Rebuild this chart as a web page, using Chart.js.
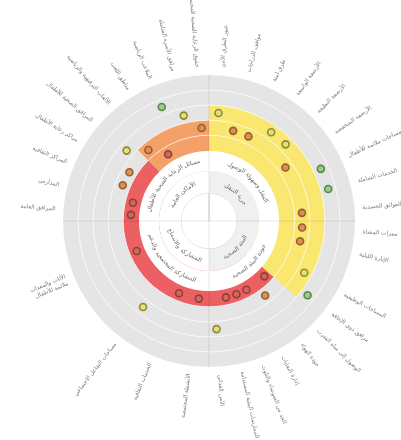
<!DOCTYPE html>
<html>
<head>
<meta charset="utf-8">
<script src="https://cdn.jsdelivr.net/npm/chart.js@4.4.1/dist/chart.umd.min.js"></script>
<style>
  html, body { margin: 0; padding: 0; background: #fff; }
  #wrap { position: relative; width: 401px; height: 440px; }
  #wrap canvas { position: absolute; left: 0; top: 0; }
</style>
</head>
<body>
<div id="wrap">
  <canvas id="bands" width="401" height="440"></canvas>
  <canvas id="core" width="401" height="440"></canvas>
  <canvas id="scores" width="401" height="440"></canvas>
</div>
<script>
// themes, one quarter of the circle each (clockwise from the top)
var themes = ['التنقل وسهولة الوصول', 'جودة البيئة الصحية', 'المشاركة المجتمعية والدعم', 'مسائل الرعاية الصحية للأطفال'];
var subThemes = ['حرية التنقل', 'البيئة الصحية', 'المشاركة والاندماج', 'الأماكن العامة'];

// categories of each theme ('' = empty slot, no label and no score)
var mobility = ['عبور الطرق الآمن', 'مواقف الدراجات', 'طرق آمنة', 'الأرصفة الواسعة', 'الأرصفة النظيفة',
  'الأرصفة المنخفضة', 'مساحات ملائمة للأطفال', 'الخدمات الشاملة', 'العوائق الجسدية'];
var environment = ['ممرات المشاة', 'الإنارة الليلية', '', 'المساحات الوظيفية', 'مرافق ذوي الإعاقة',
  'الوصول إلى مياه الشرب', 'جودة الهواء', 'إدارة النفايات', 'الحد من الضوضاء والتلوث',
  'الممارسات البيئية المستدامة', 'الأمن الغذائي'];
var participation = ['الأنشطة المجتمعية', 'الخدمات الثقافية', 'مساحات التفاعل الاجتماعي', '',
  'الأثاث والمعدات\nملائمة للأطفال', ''];
var care = ['المرافق العامة', 'المدارس', 'المراكز الثقافية', 'مراكز رعاية الأطفال', 'المرافق الصحية للأطفال',
  'الألعاب الترفيهية والرياضية', 'مناطق اللعب', 'الملاعب الرياضية', 'مرافق الأسرة الشاملة',
  'حقوق الرعاية الصحية المجتمعية'];

// scores (0 = inner edge of the bands, 5 = outer edge of the grey disc)
var mobilityScores = [2.5, 1.5, 1.5, 2.5, 2.5, 1.5, 3.5, 3.5, 1.5];
var environmentScores = [1.5, 1.5, null, 2.5, 3.5, 0.5, 1.5, 0.5, 0.5, 0.5, 2.5];
var participationScores = [0.5, 0.5, 2.5, null, 0.5, null];
var careScores = [0.5, 0.5, 1.5, 1.5, 2.5, 1.5, 0.5, 3.5, 2.5, 1.5];

// coloured bands: how many category slots each covers, and its level
var bandNames = ['الوصول', 'المشاركة', 'الرعاية'];
var bandSizes = [14, 17, 5];
var bandLevels = [3, 1, 2];

var bandColors = ['#f9e76f', '#ec5f62', '#f4a169'];
var scoreFill = { '0.5': '#d1675e', '1.5': '#dd8f55', '2.5': '#e2df78', '3.5': '#9fca8a' };
var scoreEdge = { '0.5': '#8f3f39', '1.5': '#93602f', '2.5': '#8c8a35', '3.5': '#57874a' };

var PAD = { left: 63, top: 75, right: 46, bottom: 73 };
var R_MIN = -4.7, R_MAX = 5;
var RES = 2; // radar positions per degree

// spread each theme's categories evenly over its quarter
var themeCats = [mobility, environment, participation, care];
var themeScores = [mobilityScores, environmentScores, participationScores, careScores];
var slots = [];
themeCats.forEach(function (names, q) {
  var step = 90 / names.length;
  names.forEach(function (name, i) {
    slots.push({ name: name, score: themeScores[q][i], from: q * 90 + i * step, to: q * 90 + (i + 1) * step });
  });
});

var positions = [];
var scoreData = [];
for (var k = 0; k < 360 * RES; k++) { positions.push(''); scoreData.push(null); }
slots.forEach(function (s) {
  s.index = Math.round((s.from + s.to) / 2 * RES);
  positions[s.index] = s.name;
  scoreData[s.index] = s.score;
});

var bandAngles = [];
var n = 0;
bandSizes.forEach(function (size) {
  bandAngles.push(slots[n + size - 1].to - slots[n].from);
  n += size;
});

function drawArcText(ctx, text, cx, cy, r, mid) {
  var words = text.split(' ');
  var gap = ctx.measureText(' ').width;
  var widths = words.map(function (w) { return ctx.measureText(w).width; });
  var total = widths.reduce(function (a, b) { return a + b; }, 0) + gap * (words.length - 1);
  var upper = Math.sin(mid) < 0;
  var dir = upper ? -1 : 1;
  var pos = mid - dir * total / (2 * r);
  words.forEach(function (w, i) {
    var c = pos + dir * widths[i] / (2 * r);
    ctx.save();
    ctx.translate(cx + r * Math.cos(c), cy + r * Math.sin(c));
    ctx.rotate(upper ? c + Math.PI / 2 : c - Math.PI / 2);
    ctx.fillText(w, 0, 0);
    ctx.restore();
    pos += dir * (widths[i] + gap) / r;
  });
}

var ringText = {
  id: 'ringText',
  afterDatasetsDraw: function (chart) {
    var ctx = chart.ctx;
    ctx.save();
    ctx.fillStyle = '#6a6a6a';
    ctx.textAlign = 'center';
    ctx.textBaseline = 'middle';
    ctx.font = '6px "DejaVu Sans"';
    [[0, themes], [1, subThemes]].forEach(function (ring) {
      chart.getDatasetMeta(ring[0]).data.forEach(function (arc, i) {
        var mid = (arc.startAngle + arc.endAngle) / 2;
        var r = (arc.innerRadius + arc.outerRadius) / 2;
        drawArcText(ctx, ring[1][i], arc.x, arc.y, r, mid);
      });
    });
    ctx.restore();
  }
};

var outerLabels = {
  id: 'outerLabels',
  afterDraw: function (chart) {
    var scale = chart.scales.r;
    var ctx = chart.ctx;
    ctx.save();
    ctx.font = '5.8px "DejaVu Sans"';
    ctx.fillStyle = '#7a7a7a';
    ctx.textBaseline = 'middle';
    slots.forEach(function (s) {
      if (!s.name) return;
      var a = scale.getIndexAngle(s.index);
      var p = scale.getPointPosition(s.index, scale.drawingArea + 8);
      var right = a < Math.PI;
      var lines = s.name.split('\n');
      ctx.save();
      ctx.translate(p.x, p.y);
      ctx.rotate(right ? a - Math.PI / 2 : a + Math.PI / 2);
      ctx.textAlign = right ? 'left' : 'right';
      lines.forEach(function (line, i) {
        ctx.fillText(line, 0, (i - (lines.length - 1) / 2) * 7.5);
      });
      ctx.restore();
    });
    ctx.restore();
  }
};

// grey disc and coloured bands
new Chart(document.getElementById('bands'), {
  type: 'polarArea',
  data: {
    labels: bandNames,
    datasets: [{
      data: bandLevels,
      angle: bandAngles,
      backgroundColor: bandColors,
      borderWidth: 0
    }]
  },
  options: {
    responsive: false,
    animation: false,
    events: [],
    layout: { padding: PAD },
    plugins: { legend: { display: false }, tooltip: { enabled: false } },
    scales: {
      r: {
        min: R_MIN,
        max: R_MAX,
        backgroundColor: '#e5e5e5',
        grid: { display: false, circular: true },
        angleLines: { display: false },
        ticks: { display: false },
        pointLabels: { display: false }
      }
    }
  }
});

// white centre with theme rings
new Chart(document.getElementById('core'), {
  type: 'doughnut',
  data: {
    labels: themes,
    datasets: [
      { data: [1, 1, 1, 1], backgroundColor: '#ffffff', borderWidth: 0, weight: 20 },
      { data: [1, 1, 1, 1], backgroundColor: ['#f0f0f0', '#f0f0f0', '#ffffff', '#ffffff'], borderWidth: 0, weight: 22 },
      { data: [1], backgroundColor: '#ffffff', borderColor: '#e2e2e2', borderWidth: 1, weight: 28 }
    ]
  },
  options: {
    responsive: false,
    animation: false,
    events: [],
    radius: 70,
    cutout: 0,
    layout: { padding: PAD },
    plugins: { legend: { display: false }, tooltip: { enabled: false } }
  },
  plugins: [ringText]
});

// grid, axes, score points and category labels
new Chart(document.getElementById('scores'), {
  type: 'radar',
  data: {
    labels: positions,
    datasets: [{
      data: scoreData,
      showLine: false,
      fill: false,
      pointRadius: function (ctx) { return ctx.raw == null ? 0 : 3.5; },
      pointBorderWidth: 1.6,
      pointBackgroundColor: function (ctx) { return scoreFill[ctx.raw]; },
      pointBorderColor: function (ctx) { return scoreEdge[ctx.raw]; }
    }]
  },
  options: {
    responsive: false,
    animation: false,
    events: [],
    layout: { padding: PAD },
    plugins: { legend: { display: false }, tooltip: { enabled: false } },
    scales: {
      r: {
        min: R_MIN,
        max: R_MAX,
        ticks: { display: false, stepSize: 1 },
        pointLabels: { display: false },
        grid: {
          circular: true,
          color: function (ctx) {
            return ctx.tick && ctx.tick.value > 0 && ctx.tick.value < R_MAX ? 'rgba(255,255,255,0.75)' : 'transparent';
          }
        },
        angleLines: {
          color: 'rgba(0,0,0,0.09)',
          lineWidth: function (ctx) { return ctx.index % (90 * RES) === 0 ? 1 : 0; }
        }
      }
    }
  },
  plugins: [outerLabels]
});
</script>
</body>
</html>
